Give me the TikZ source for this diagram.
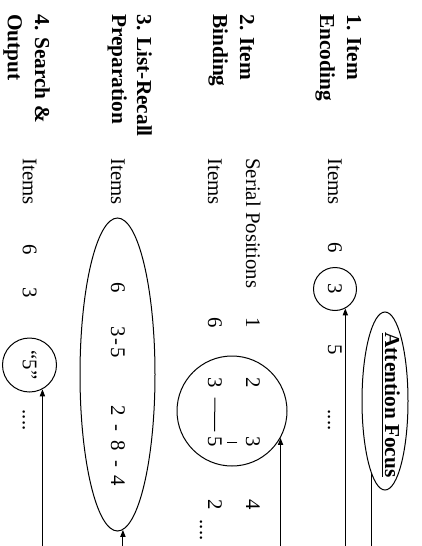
\documentclass[tikz,border=0pt]{standalone}
\usepackage{fontspec}
\setmainfont{Liberation Serif}
\usetikzlibrary{shapes.geometric,arrows.meta}
\newcommand\myfs{\fontsize{10.4}{12}\selectfont}
\newcommand\myhfs{\fontsize{10.65}{12}\selectfont}
\tikzset{
  lbl/.style={rotate=-90, inner sep=0pt, font=\myfs},
  hdr/.style={lbl, font=\myhfs\bfseries, anchor=base west},
  txt/.style={lbl, anchor=base west},
  num/.style={lbl, anchor=base},
  ring/.style={draw, circle, inner sep=0pt, line width=0.5pt},
  oval/.style={draw, ellipse, inner sep=0pt, line width=0.5pt},
  ln/.style={line width=0.5pt},
  arr/.style={ln, -{Triangle[length=3.5pt,width=2.6pt]}},
}
\begin{document}
\begin{tikzpicture}[x=0.5pt,y=-0.5pt]
\useasboundingbox (0,0) rectangle (422,546);
\coordinate (bot) at (0,546);

% stage headers
\node[hdr] (h1a) at (347,14) {1. Item};
\node[hdr] (h1b) at (320,14) {Encoding};
\node[hdr] (h2a) at (240,14) {2. Item};
\node[hdr] (h2b) at (213,14) {Binding};
\node[hdr] (h3a) at (137,14) {3. List-Recall};
\node[hdr] (h3b) at (112,14) {Preparation};
\node[hdr] (h4a) at (35,14) {4. Search \&};
\node[hdr] (h4b) at (8,14) {Output};

% row labels
\node[txt] (r1) at (328,158) {Items};
\node[txt] (r2s) at (246,158) {Serial Positions};
\node[txt] (r2i) at (208,158) {Items};
\node[txt] (r3) at (111,158) {Items};
\node[txt] (r4) at (23,158) {Items};

% row 1
\node[num] (a6) at (328,248) {6};
\node[ring, minimum size=21.5pt] (c1) at (335,289) {};
\node[num] (a3) at (328,289) {3};
\node[num] (a5) at (328,350) {5};
\node[num] (ad) at (328,420) {....};
\node[oval, minimum width=23pt, minimum height=89pt] (af) at (385,401) {};
\node[lbl, font=\myhfs\bfseries, anchor=base] (aft) at (385,405) {\underline{Attention Focus}};

% row 2
\node[num] (s1) at (246,323) {1};
\node[num] (s2) at (246,383) {2};
\node[num] (s3) at (246,442) {3};
\node[num] (s4) at (246,505) {4};
\node[num] (i6) at (208,323) {6};
\node[num] (i3) at (208,383) {3};
\node[num] (i5) at (208,442) {5};
\node[num] (i2) at (208,505) {2};
\node[num] (id) at (200,530) {....};
\node[ring, minimum size=55pt] (c2) at (232,411) {};
\draw[ln, shorten <=4.5pt, shorten >=2.5pt] (i3.east) -- (i5.west);
\draw[ln, shorten <=4pt, shorten >=2.5pt] (s3.south) -- (i5.north);

% row 3
\node[oval, minimum width=37.5pt, minimum height=156.5pt] (e3) at (117.5,374.5) {};
\node[num] (p6) at (111,288) {6};
\node[num] (p35) at (111,342) {3\kern0.8pt-\kern0.8pt5};
\node[num] (p284) at (111,446) {2\hspace{0.43em}-\hspace{0.43em}8\hspace{0.43em}-\hspace{0.43em}4};

% row 4
\node[num] (o6) at (23,250) {6};
\node[num] (o3) at (23,293) {3};
\node[ring, minimum size=27pt] (c4) at (29.5,365) {};
\node[num] (o5) at (23,365) {“5”};
\node[num] (od) at (23,420) {....};

% connectors from below
\draw[arr] (c1.-62 |- bot) -- (c1.-62);
\draw[arr] (c2.-29 |- bot) -- (c2.-29);
\draw[arr] (e3.-88 |- bot) -- (e3.-88);
\draw[arr] (c4.-62 |- bot) -- (c4.-62);
\draw[ln] (af.-101 |- bot) -- (af.-101);
\end{tikzpicture}
\end{document}
